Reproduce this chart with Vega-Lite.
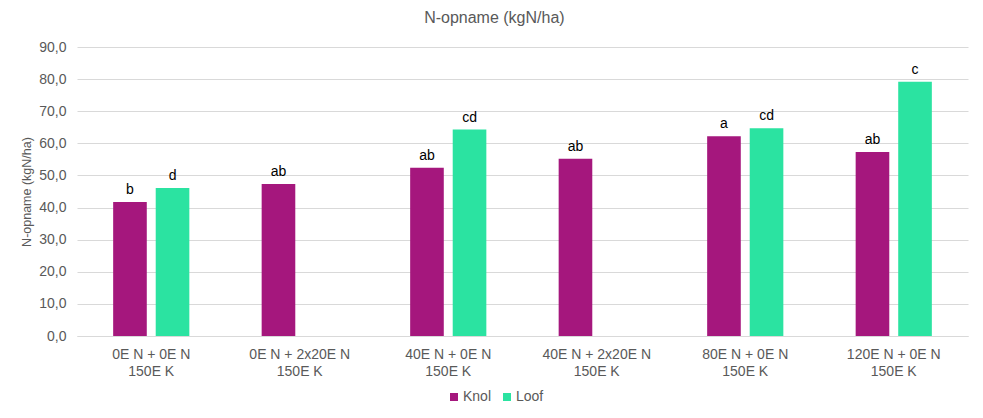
{
  "$schema": "https://vega.github.io/schema/vega-lite/v6.json",
  "width": 891,
  "height": 289,
  "autosize": {"type": "none"},
  "padding": {"left": 77, "top": 47, "right": 15, "bottom": 82},
  "background": "white",
  "title": {
    "text": "N-opname (kgN/ha)",
    "anchor": "middle",
    "frame": "bounds",
    "font": "Liberation Sans",
    "fontSize": 16,
    "fontWeight": "normal",
    "color": "#595959",
    "offset": 14
  },
  "data": {
    "values": [
      {"groep": "0E N + 0E N|150E K", "deel": "Knol", "N": 41.7, "letter": "b"},
      {"groep": "0E N + 0E N|150E K", "deel": "Loof", "N": 46.1, "letter": "d"},
      {"groep": "0E N + 2x20E N|150E K", "deel": "Knol", "N": 47.3, "letter": "ab"},
      {"groep": "40E N + 0E N|150E K", "deel": "Knol", "N": 52.4, "letter": "ab"},
      {"groep": "40E N + 0E N|150E K", "deel": "Loof", "N": 64.3, "letter": "cd"},
      {"groep": "40E N + 2x20E N|150E K", "deel": "Knol", "N": 55.2, "letter": "ab"},
      {"groep": "80E N + 0E N|150E K", "deel": "Knol", "N": 62.2, "letter": "a"},
      {"groep": "80E N + 0E N|150E K", "deel": "Loof", "N": 64.7, "letter": "cd"},
      {"groep": "120E N + 0E N|150E K", "deel": "Knol", "N": 57.3, "letter": "ab"},
      {"groep": "120E N + 0E N|150E K", "deel": "Loof", "N": 79.2, "letter": "c"}
    ]
  },
  "encoding": {
    "x": {
      "field": "groep",
      "type": "nominal",
      "sort": null,
      "scale": {"paddingInner": 0.487, "paddingOuter": 0.2435},
      "axis": {
        "title": null,
        "labelAngle": 0,
        "labelExpr": "split(datum.label, '|')",
        "labelFont": "Liberation Sans",
        "labelFontSize": 14,
        "labelColor": "#595959",
        "labelLineHeight": 17,
        "labelPadding": 11,
        "ticks": false,
        "domainColor": "#d9d9d9",
        "domainWidth": 1,
        "grid": false
      }
    },
    "xOffset": {
      "field": "deel",
      "type": "nominal",
      "scale": {"domain": ["Knol", "Loof"], "paddingInner": 0.21, "paddingOuter": 0}
    },
    "y": {
      "field": "N",
      "type": "quantitative",
      "scale": {"domain": [0, 90]},
      "axis": {
        "title": "N-opname (kgN/ha)",
        "titleFont": "Liberation Sans",
        "titleFontSize": 12.5,
        "titleFontWeight": "normal",
        "titleColor": "#595959",
        "titlePadding": 5,
        "values": [0, 10, 20, 30, 40, 50, 60, 70, 80, 90],
        "labelExpr": "replace(format(datum.value, '.1f'), '.', ',')",
        "labelFont": "Liberation Sans",
        "labelFontSize": 14,
        "labelColor": "#595959",
        "labelPadding": 11,
        "ticks": false,
        "domain": false,
        "gridColor": "#d9d9d9",
        "gridWidth": 1
      }
    }
  },
  "layer": [
    {
      "mark": {"type": "bar"},
      "encoding": {
        "color": {
          "field": "deel",
          "type": "nominal",
          "scale": {"domain": ["Knol", "Loof"], "range": ["#A5177D", "#2BE3A1"]},
          "legend": {
            "title": null,
            "orient": "none",
            "direction": "horizontal",
            "legendX": 370,
            "legendY": 343,
            "symbolType": "square",
            "symbolSize": 64,
            "symbolStrokeWidth": 0,
            "labelFont": "Liberation Sans",
            "labelFontSize": 14,
            "labelColor": "#595959",
            "labelOffset": 2,
            "columnPadding": 8
          }
        }
      }
    },
    {
      "mark": {
        "type": "text",
        "baseline": "alphabetic",
        "dy": -8,
        "font": "Liberation Sans",
        "fontSize": 14,
        "color": "#000000"
      },
      "encoding": {"text": {"field": "letter"}}
    }
  ],
  "config": {"view": {"stroke": null}}
}
